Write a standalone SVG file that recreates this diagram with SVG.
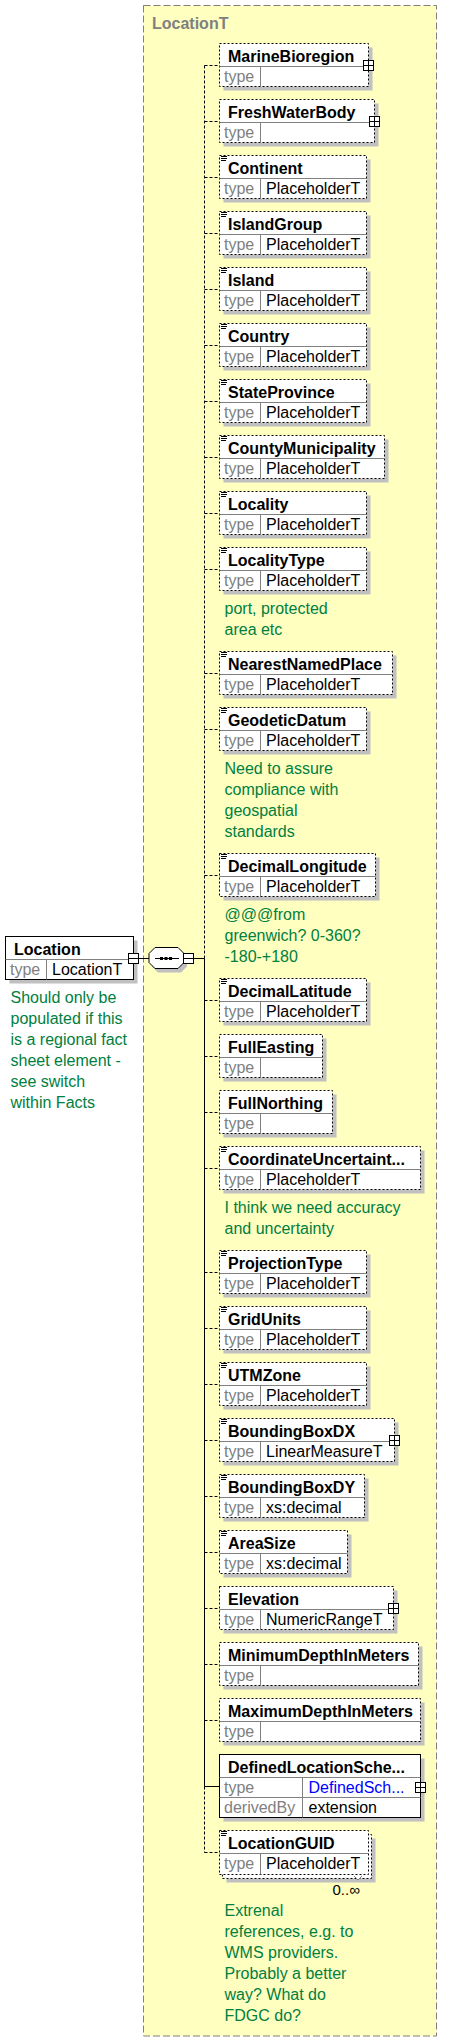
<svg xmlns="http://www.w3.org/2000/svg" width="455" height="2042" viewBox="0 0 455 2042">
<style>
.bg{fill:#FFFFC0;stroke:#808080;stroke-width:1;stroke-dasharray:7,3}
.ttl{font:bold 16px "Liberation Sans",Arial,sans-serif;fill:#808080}
.box{fill:#fff;stroke:#000;stroke-width:1}
.opt{stroke-dasharray:2,2}
.sh{fill:#c0c0c0}
.dv{stroke:#808080;stroke-width:1;fill:none}
.nm{font:bold 16px "Liberation Sans",Arial,sans-serif;fill:#000}
.tl{font:16px "Liberation Sans",Arial,sans-serif;fill:#808080}
.tv{font:16px "Liberation Sans",Arial,sans-serif;fill:#000}
.tb{font:16px "Liberation Sans",Arial,sans-serif;fill:#0000FF}
.cm{font:16px "Liberation Sans",Arial,sans-serif;fill:#008040}
.oc{font:15px "Liberation Sans",Arial,sans-serif;fill:#000}
.ic{stroke:#000;stroke-width:1;fill:none}
.pl{fill:#fff;stroke:#000;stroke-width:1}
.cn{stroke:#000;stroke-width:1;fill:none}
.cd{stroke-dasharray:3,2}
</style>
<defs>
<g id="doc"><path class="ic" d="M1.5,1H7.5M1.5,3H7.5M1.5,5H6.5"/></g>
<g id="plus"><rect class="pl" x="-5" y="-5" width="10" height="10"/><path class="ic" d="M0,-5V5M-5,0H5"/></g>
<g id="minus"><rect class="pl" x="-5" y="-5" width="10" height="10"/><path class="ic" d="M-5,0H5"/></g>
</defs>

<rect id="LocationT" class="bg" x="143.5" y="5.5" width="293" height="2030.5"/>
<text class="ttl" x="152" y="29">LocationT</text>

<g id="connectors">
<path class="cn cd" d="M204.5,65.5V958.5M204.5,1786.5V1852.5"/>
<path class="cn" d="M204.5,958.5V1786.5"/>
<path class="cn cd" d="M204.5,65.5H219.5M204.5,121.5H219.5M204.5,177.5H219.5M204.5,233.5H219.5M204.5,289.5H219.5M204.5,345.5H219.5M204.5,401.5H219.5M204.5,457.5H219.5M204.5,513.5H219.5M204.5,569.5H219.5M204.5,673.5H219.5M204.5,729.5H219.5M204.5,875.5H219.5M204.5,1000.5H219.5M204.5,1056.5H219.5M204.5,1112.5H219.5M204.5,1168.5H219.5M204.5,1272.5H219.5M204.5,1328.5H219.5M204.5,1384.5H219.5M204.5,1440.5H219.5M204.5,1496.5H219.5M204.5,1552.5H219.5M204.5,1608.5H219.5M204.5,1664.5H219.5M204.5,1720.5H219.5M204.5,1852.5H219.5"/>
<path class="cn" d="M204.5,1786.5H219.5"/>
<path class="cn" d="M138.5,958.5H149M193.5,958.5H204.5"/>
</g>

<g id="Location" transform="translate(5.5,936.5)">
<rect class="sh" x="4" y="4" width="128" height="43"/>
<rect class="box" x="0" y="0" width="128" height="43"/>
<path class="dv" d="M0,23H128M41,23V43"/>
<text class="nm" x="8.5" y="18">Location</text>
<text class="tl" x="4.5" y="38.5">type</text>
<text class="tv" x="46.5" y="38.5">LocationT</text>
<use href="#minus" x="128" y="22"/>
<text class="cm" x="5" y="66.5">Should only be</text>
<text class="cm" x="5" y="87.5">populated if this</text>
<text class="cm" x="5" y="108.5">is a regional fact</text>
<text class="cm" x="5" y="129.5">sheet element -</text>
<text class="cm" x="5" y="150.5">see switch</text>
<text class="cm" x="5" y="171.5">within Facts</text>
</g>

<g id="sequence">
<path class="sh" d="M158,951.5H181L187,957.5V966.5L181,972.5H158L152,966.5V957.5Z"/>
<path class="box" d="M155,947.5H178L184,953.5V962.5L178,968.5H155L149,962.5V953.5Z"/>
<path class="ic" d="M155,958.5H179"/>
<rect x="160" y="957" width="3" height="3" fill="#000"/>
<rect x="164.5" y="957" width="3" height="3" fill="#000"/>
<rect x="169" y="957" width="3" height="3" fill="#000"/>
<use href="#minus" x="188.5" y="958.5"/>
</g>

<g id="MarineBioregion" transform="translate(219.5,43.5)">
<rect class="sh" x="4" y="4" width="149" height="43"/>
<rect class="box opt" x="0" y="0" width="149" height="43"/>
<path class="dv" d="M0,23H149M41,23V43"/>
<text class="nm" x="8.5" y="18">MarineBioregion</text>
<text class="tl" x="4.5" y="38.5">type</text>
<use href="#plus" x="149" y="22"/>
</g>

<g id="FreshWaterBody" transform="translate(219.5,99.5)">
<rect class="sh" x="4" y="4" width="155" height="43"/>
<rect class="box opt" x="0" y="0" width="155" height="43"/>
<path class="dv" d="M0,23H155M41,23V43"/>
<text class="nm" x="8.5" y="18">FreshWaterBody</text>
<text class="tl" x="4.5" y="38.5">type</text>
<use href="#plus" x="155" y="22"/>
</g>

<g id="Continent" transform="translate(219.5,155.5)">
<rect class="sh" x="4" y="4" width="147" height="43"/>
<rect class="box opt" x="0" y="0" width="147" height="43"/>
<path class="dv" d="M0,23H147M41,23V43"/>
<use href="#doc"/>
<text class="nm" x="8.5" y="18">Continent</text>
<text class="tl" x="4.5" y="38.5">type</text>
<text class="tv" x="46.5" y="38.5">PlaceholderT</text>
</g>

<g id="IslandGroup" transform="translate(219.5,211.5)">
<rect class="sh" x="4" y="4" width="147" height="43"/>
<rect class="box opt" x="0" y="0" width="147" height="43"/>
<path class="dv" d="M0,23H147M41,23V43"/>
<use href="#doc"/>
<text class="nm" x="8.5" y="18">IslandGroup</text>
<text class="tl" x="4.5" y="38.5">type</text>
<text class="tv" x="46.5" y="38.5">PlaceholderT</text>
</g>

<g id="Island" transform="translate(219.5,267.5)">
<rect class="sh" x="4" y="4" width="147" height="43"/>
<rect class="box opt" x="0" y="0" width="147" height="43"/>
<path class="dv" d="M0,23H147M41,23V43"/>
<use href="#doc"/>
<text class="nm" x="8.5" y="18">Island</text>
<text class="tl" x="4.5" y="38.5">type</text>
<text class="tv" x="46.5" y="38.5">PlaceholderT</text>
</g>

<g id="Country" transform="translate(219.5,323.5)">
<rect class="sh" x="4" y="4" width="147" height="43"/>
<rect class="box opt" x="0" y="0" width="147" height="43"/>
<path class="dv" d="M0,23H147M41,23V43"/>
<use href="#doc"/>
<text class="nm" x="8.5" y="18">Country</text>
<text class="tl" x="4.5" y="38.5">type</text>
<text class="tv" x="46.5" y="38.5">PlaceholderT</text>
</g>

<g id="StateProvince" transform="translate(219.5,379.5)">
<rect class="sh" x="4" y="4" width="147" height="43"/>
<rect class="box opt" x="0" y="0" width="147" height="43"/>
<path class="dv" d="M0,23H147M41,23V43"/>
<use href="#doc"/>
<text class="nm" x="8.5" y="18">StateProvince</text>
<text class="tl" x="4.5" y="38.5">type</text>
<text class="tv" x="46.5" y="38.5">PlaceholderT</text>
</g>

<g id="CountyMunicipality" transform="translate(219.5,435.5)">
<rect class="sh" x="4" y="4" width="165" height="43"/>
<rect class="box opt" x="0" y="0" width="165" height="43"/>
<path class="dv" d="M0,23H165M41,23V43"/>
<use href="#doc"/>
<text class="nm" x="8.5" y="18">CountyMunicipality</text>
<text class="tl" x="4.5" y="38.5">type</text>
<text class="tv" x="46.5" y="38.5">PlaceholderT</text>
</g>

<g id="Locality" transform="translate(219.5,491.5)">
<rect class="sh" x="4" y="4" width="147" height="43"/>
<rect class="box opt" x="0" y="0" width="147" height="43"/>
<path class="dv" d="M0,23H147M41,23V43"/>
<use href="#doc"/>
<text class="nm" x="8.5" y="18">Locality</text>
<text class="tl" x="4.5" y="38.5">type</text>
<text class="tv" x="46.5" y="38.5">PlaceholderT</text>
</g>

<g id="LocalityType" transform="translate(219.5,547.5)">
<rect class="sh" x="4" y="4" width="147" height="43"/>
<rect class="box opt" x="0" y="0" width="147" height="43"/>
<path class="dv" d="M0,23H147M41,23V43"/>
<use href="#doc"/>
<text class="nm" x="8.5" y="18">LocalityType</text>
<text class="tl" x="4.5" y="38.5">type</text>
<text class="tv" x="46.5" y="38.5">PlaceholderT</text>
<text class="cm" x="5" y="66.5">port, protected</text>
<text class="cm" x="5" y="87.5">area etc</text>
</g>

<g id="NearestNamedPlace" transform="translate(219.5,651.5)">
<rect class="sh" x="4" y="4" width="173" height="43"/>
<rect class="box opt" x="0" y="0" width="173" height="43"/>
<path class="dv" d="M0,23H173M41,23V43"/>
<use href="#doc"/>
<text class="nm" x="8.5" y="18">NearestNamedPlace</text>
<text class="tl" x="4.5" y="38.5">type</text>
<text class="tv" x="46.5" y="38.5">PlaceholderT</text>
</g>

<g id="GeodeticDatum" transform="translate(219.5,707.5)">
<rect class="sh" x="4" y="4" width="147" height="43"/>
<rect class="box opt" x="0" y="0" width="147" height="43"/>
<path class="dv" d="M0,23H147M41,23V43"/>
<use href="#doc"/>
<text class="nm" x="8.5" y="18">GeodeticDatum</text>
<text class="tl" x="4.5" y="38.5">type</text>
<text class="tv" x="46.5" y="38.5">PlaceholderT</text>
<text class="cm" x="5" y="66.5">Need to assure</text>
<text class="cm" x="5" y="87.5">compliance with</text>
<text class="cm" x="5" y="108.5">geospatial</text>
<text class="cm" x="5" y="129.5">standards</text>
</g>

<g id="DecimalLongitude" transform="translate(219.5,853.5)">
<rect class="sh" x="4" y="4" width="156" height="43"/>
<rect class="box opt" x="0" y="0" width="156" height="43"/>
<path class="dv" d="M0,23H156M41,23V43"/>
<use href="#doc"/>
<text class="nm" x="8.5" y="18">DecimalLongitude</text>
<text class="tl" x="4.5" y="38.5">type</text>
<text class="tv" x="46.5" y="38.5">PlaceholderT</text>
<text class="cm" x="5" y="66.5">@@@from</text>
<text class="cm" x="5" y="87.5">greenwich? 0-360?</text>
<text class="cm" x="5" y="108.5">-180-+180</text>
</g>

<g id="DecimalLatitude" transform="translate(219.5,978.5)">
<rect class="sh" x="4" y="4" width="147" height="43"/>
<rect class="box opt" x="0" y="0" width="147" height="43"/>
<path class="dv" d="M0,23H147M41,23V43"/>
<use href="#doc"/>
<text class="nm" x="8.5" y="18">DecimalLatitude</text>
<text class="tl" x="4.5" y="38.5">type</text>
<text class="tv" x="46.5" y="38.5">PlaceholderT</text>
</g>

<g id="FullEasting" transform="translate(219.5,1034.5)">
<rect class="sh" x="4" y="4" width="103" height="43"/>
<rect class="box opt" x="0" y="0" width="103" height="43"/>
<path class="dv" d="M0,23H103M41,23V43"/>
<text class="nm" x="8.5" y="18">FullEasting</text>
<text class="tl" x="4.5" y="38.5">type</text>
</g>

<g id="FullNorthing" transform="translate(219.5,1090.5)">
<rect class="sh" x="4" y="4" width="113" height="43"/>
<rect class="box opt" x="0" y="0" width="113" height="43"/>
<path class="dv" d="M0,23H113M41,23V43"/>
<text class="nm" x="8.5" y="18">FullNorthing</text>
<text class="tl" x="4.5" y="38.5">type</text>
</g>

<g id="CoordinateUncertainty" transform="translate(219.5,1146.5)">
<rect class="sh" x="4" y="4" width="201" height="43"/>
<rect class="box opt" x="0" y="0" width="201" height="43"/>
<path class="dv" d="M0,23H201M41,23V43"/>
<use href="#doc"/>
<text class="nm" x="8.5" y="18">CoordinateUncertaint...</text>
<text class="tl" x="4.5" y="38.5">type</text>
<text class="tv" x="46.5" y="38.5">PlaceholderT</text>
<text class="cm" x="5" y="66.5">I think we need accuracy</text>
<text class="cm" x="5" y="87.5">and uncertainty</text>
</g>

<g id="ProjectionType" transform="translate(219.5,1250.5)">
<rect class="sh" x="4" y="4" width="147" height="43"/>
<rect class="box opt" x="0" y="0" width="147" height="43"/>
<path class="dv" d="M0,23H147M41,23V43"/>
<use href="#doc"/>
<text class="nm" x="8.5" y="18">ProjectionType</text>
<text class="tl" x="4.5" y="38.5">type</text>
<text class="tv" x="46.5" y="38.5">PlaceholderT</text>
</g>

<g id="GridUnits" transform="translate(219.5,1306.5)">
<rect class="sh" x="4" y="4" width="147" height="43"/>
<rect class="box opt" x="0" y="0" width="147" height="43"/>
<path class="dv" d="M0,23H147M41,23V43"/>
<use href="#doc"/>
<text class="nm" x="8.5" y="18">GridUnits</text>
<text class="tl" x="4.5" y="38.5">type</text>
<text class="tv" x="46.5" y="38.5">PlaceholderT</text>
</g>

<g id="UTMZone" transform="translate(219.5,1362.5)">
<rect class="sh" x="4" y="4" width="147" height="43"/>
<rect class="box opt" x="0" y="0" width="147" height="43"/>
<path class="dv" d="M0,23H147M41,23V43"/>
<use href="#doc"/>
<text class="nm" x="8.5" y="18">UTMZone</text>
<text class="tl" x="4.5" y="38.5">type</text>
<text class="tv" x="46.5" y="38.5">PlaceholderT</text>
</g>

<g id="BoundingBoxDX" transform="translate(219.5,1418.5)">
<rect class="sh" x="4" y="4" width="175" height="43"/>
<rect class="box opt" x="0" y="0" width="175" height="43"/>
<path class="dv" d="M0,23H175M41,23V43"/>
<use href="#doc"/>
<text class="nm" x="8.5" y="18">BoundingBoxDX</text>
<text class="tl" x="4.5" y="38.5">type</text>
<text class="tv" x="46.5" y="38.5">LinearMeasureT</text>
<use href="#plus" x="175" y="22"/>
</g>

<g id="BoundingBoxDY" transform="translate(219.5,1474.5)">
<rect class="sh" x="4" y="4" width="145" height="43"/>
<rect class="box opt" x="0" y="0" width="145" height="43"/>
<path class="dv" d="M0,23H145M41,23V43"/>
<use href="#doc"/>
<text class="nm" x="8.5" y="18">BoundingBoxDY</text>
<text class="tl" x="4.5" y="38.5">type</text>
<text class="tv" x="46.5" y="38.5">xs:decimal</text>
</g>

<g id="AreaSize" transform="translate(219.5,1530.5)">
<rect class="sh" x="4" y="4" width="128" height="43"/>
<rect class="box opt" x="0" y="0" width="128" height="43"/>
<path class="dv" d="M0,23H128M41,23V43"/>
<use href="#doc"/>
<text class="nm" x="8.5" y="18">AreaSize</text>
<text class="tl" x="4.5" y="38.5">type</text>
<text class="tv" x="46.5" y="38.5">xs:decimal</text>
</g>

<g id="Elevation" transform="translate(219.5,1586.5)">
<rect class="sh" x="4" y="4" width="174" height="43"/>
<rect class="box opt" x="0" y="0" width="174" height="43"/>
<path class="dv" d="M0,23H174M41,23V43"/>
<text class="nm" x="8.5" y="18">Elevation</text>
<text class="tl" x="4.5" y="38.5">type</text>
<text class="tv" x="46.5" y="38.5">NumericRangeT</text>
<use href="#plus" x="174" y="22"/>
</g>

<g id="MinimumDepthInMeters" transform="translate(219.5,1642.5)">
<rect class="sh" x="4" y="4" width="199" height="43"/>
<rect class="box opt" x="0" y="0" width="199" height="43"/>
<path class="dv" d="M0,23H199M41,23V43"/>
<text class="nm" x="8.5" y="18">MinimumDepthInMeters</text>
<text class="tl" x="4.5" y="38.5">type</text>
</g>

<g id="MaximumDepthInMeters" transform="translate(219.5,1698.5)">
<rect class="sh" x="4" y="4" width="201" height="43"/>
<rect class="box opt" x="0" y="0" width="201" height="43"/>
<path class="dv" d="M0,23H201M41,23V43"/>
<text class="nm" x="8.5" y="18">MaximumDepthInMeters</text>
<text class="tl" x="4.5" y="38.5">type</text>
</g>

<g id="DefinedLocationScheme" transform="translate(219.5,1754.5)">
<rect class="sh" x="4" y="4" width="201" height="63"/>
<rect class="box" x="0" y="0" width="201" height="63"/>
<path class="dv" d="M0,23H201M0,43H201M83,23V63"/>
<text class="nm" x="8.5" y="18">DefinedLocationSche...</text>
<text class="tl" x="4.5" y="38.5">type</text>
<text class="tb" x="89" y="38.5">DefinedSch...</text>
<text class="tl" x="4.5" y="58.5">derivedBy</text>
<text class="tv" x="89" y="58.5">extension</text>
<use href="#plus" x="201" y="33"/>
</g>

<g id="LocationGUID" transform="translate(219.5,1830.5)">
<rect class="sh" x="7" y="8" width="149" height="44"/>
<rect class="box opt" x="3" y="4" width="149" height="44"/>
<rect class="box opt" x="0" y="0" width="149" height="44"/>
<path class="dv" d="M0,23H149M41,23V44"/>
<use href="#doc"/>
<text class="nm" x="8.5" y="18">LocationGUID</text>
<text class="tl" x="4.5" y="38.5">type</text>
<text class="tv" x="46.5" y="38.5">PlaceholderT</text>
<path d="M134.5,45.5L138.5,49.5L142.5,45.5" fill="#fff" stroke="#808080"/>
<text class="oc" x="113" y="64.5">0..∞</text>
<text class="cm" x="5" y="85.5">Extrenal</text>
<text class="cm" x="5" y="106.5">references, e.g. to</text>
<text class="cm" x="5" y="127.5">WMS providers.</text>
<text class="cm" x="5" y="148.5">Probably a better</text>
<text class="cm" x="5" y="169.5">way? What do</text>
<text class="cm" x="5" y="190.5">FDGC do?</text>
</g>
</svg>
